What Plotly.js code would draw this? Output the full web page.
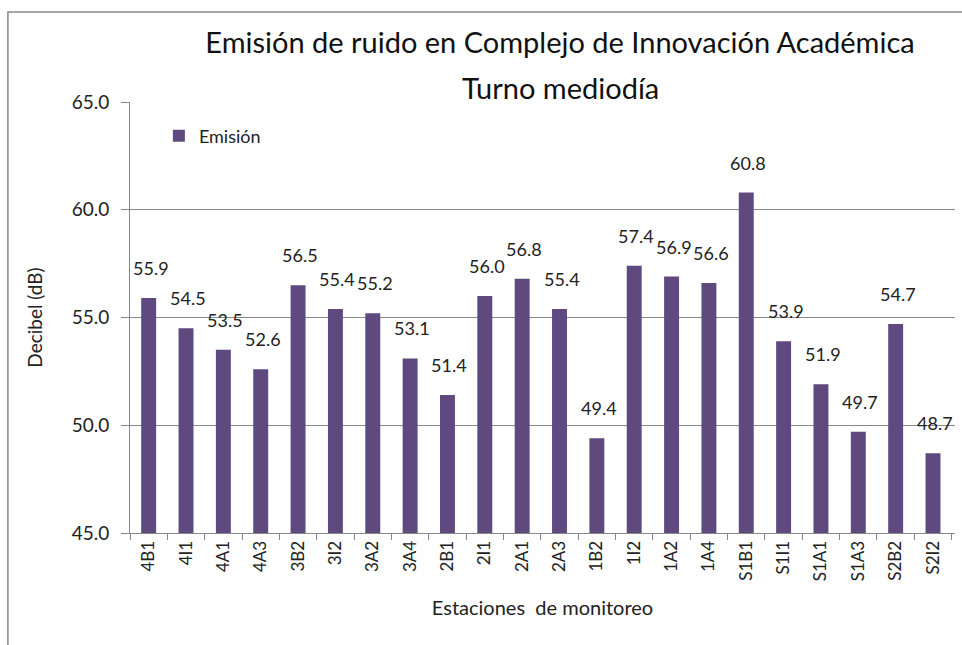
<!DOCTYPE html>
<html>
<head>
<meta charset="utf-8">
<script src="https://cdn.plot.ly/plotly-3.0.1.min.js"></script>
<style>html,body{margin:0;padding:0;background:#fff;}#chart{width:962px;height:645px;}</style>
</head>
<body>
<div id="chart"></div>
<script>
const stations = ["4B1","4I1","4A1","4A3","3B2","3I2","3A2","3A4","2B1","2I1","2A1","2A3","1B2","1I2","1A2","1A4","S1B1","S1I1","S1A1","S1A3","S2B2","S2I2"];
const emision = [55.9,54.5,53.5,52.6,56.5,55.4,55.2,53.1,51.4,56.0,56.8,55.4,49.4,57.4,56.9,56.6,60.8,53.9,51.9,49.7,54.7,48.7];
const yTicks = [45,50,55,60,65];
const titleLine1 = 'Emisión de ruido en Complejo de Innovación Académica';
const titleLine2 = 'Turno mediodía';

const FONT = "Lato, Noto Sans, sans-serif";
const data = [{
  type: 'bar',
  name: 'Emisión',
  x: stations,
  y: emision,
  marker: {color: '#5e4a7e'},
  hoverinfo: 'x+y'
}];
const valueLabels = stations.map((s, i) => ({
  x: s, y: emision[i], xref: 'x', yref: 'y',
  text: emision[i].toFixed(1),
  showarrow: false, yanchor: 'bottom', yshift: 17, xshift: 2,
  font: {family: FONT, size: 18, color: '#222'}
}));
const layout = {
  width: 962, height: 645,
  paper_bgcolor: '#fff', plot_bgcolor: '#fff',
  margin: {l: 130, r: 7, t: 102, b: 112},
  bargap: 0.6,
  font: {family: FONT, color: '#222'},
  title: {
    text: titleLine1,
    font: {family: FONT, size: 29, color: '#111'},
    x: 560/962, xanchor: 'center', xref: 'container',
    y: 1 - 43/645, yanchor: 'middle', yref: 'container'
  },
  annotations: [{
    text: titleLine2, xref: 'paper', yref: 'paper',
    x: (560 - 130) / 825, y: (533 - 88) / 431,
    xanchor: 'center', yanchor: 'middle', showarrow: false,
    font: {family: FONT, size: 29, color: '#111'}
  }].concat(valueLabels),
  showlegend: true,
  legend: {x: 0.035, y: (533 - 136) / 431, xanchor: 'left', yanchor: 'middle', bgcolor: 'rgba(0,0,0,0)', font: {family: FONT, size: 18, color: '#222'}},
  xaxis: {
    type: 'category',
    tickangle: -90,
    tickson: 'boundaries',
    ticks: 'outside', ticklen: 6, tickcolor: '#888',
    showline: true, linecolor: '#888', linewidth: 1,
    showgrid: false,
    tickfont: {family: FONT, size: 17, color: '#222'},
    title: {text: 'Estaciones  de monitoreo', font: {family: FONT, size: 20, color: '#222'}, standoff: 20}
  },
  yaxis: {
    range: [45, 65],
    tickvals: yTicks,
    ticktext: yTicks.map(v => v.toFixed(1)),
    ticks: 'outside', ticklen: 8, tickcolor: '#888',
    ticklabelstandoff: 8,
    showline: true, linecolor: '#888', linewidth: 1,
    showgrid: true, gridcolor: '#888', gridwidth: 1,
    zeroline: false,
    tickfont: {family: FONT, size: 19, color: '#222'},
    title: {text: 'Decibel (dB)', font: {family: FONT, size: 19, color: '#222'}, standoff: 24}
  },
  shapes: [{
    type: 'rect', xref: 'paper', yref: 'paper',
    x0: -0.148, x1: 1.2, y0: -0.5, y1: 1.209,
    line: {color: '#888', width: 1.5}
  }]
};
Plotly.newPlot('chart', data, layout, {displayModeBar: false});
</script>
</body>
</html>
